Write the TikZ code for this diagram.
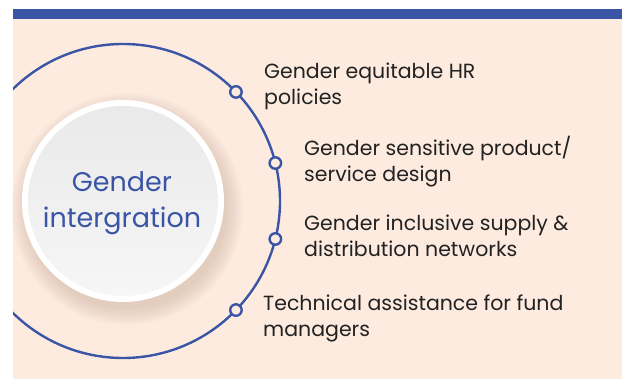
\documentclass[tikz,border=0pt]{standalone}
\usepackage{fontspec}
\setmainfont{Poppins}
\usetikzlibrary{positioning}
\definecolor{barblue}{HTML}{3B55A6}
\definecolor{peach}{HTML}{FDEBE0}
\definecolor{inktext}{HTML}{222222}
\definecolor{shadebrown}{HTML}{B89A84}

\begin{document}
\begin{tikzpicture}[
        x=1pt, y=-1pt,
        item/.style={anchor=base west, align=left, inner sep=0pt, text=inktext, font=\fontsize{20.5}{26}\selectfont},
        ring/.style={draw=barblue, line width=2.4pt},
        knob/.style={circle, draw=barblue, line width=2.4pt, fill=peach, minimum size=11.5pt, inner sep=0pt},
        hublabel/.style={align=center, text=barblue, font=\fontsize{27}{36}\selectfont}
    ]

    % Background
    \useasboundingbox (0,0) rectangle (622,379);
    \fill[white] (0,0) rectangle (622,379);
    \fill[peach] (13,19) rectangle (622,379);
    \fill[barblue] (13,9) rectangle (622,19);

    % Big ring
    \begin{scope}
      \clip (13,19) rectangle (622,379);
      \draw[ring] (123,201) circle (157);
    \end{scope}

    % Shadow and hub
    \foreach \i in {1,...,12}
      \fill[shadebrown, opacity=0.03] (127,209) circle (98+\i*1.5);
    \fill[white] (123,201) circle (101);
    \shade[top color=gray!17, bottom color=gray!7] (123,201) circle (95);
    \node[hublabel] (hub) at (122,203) {Gender\\intergration};

    % Knobs
    \path (123,201) ++(-44:157) node[knob] (d1) {};
    \path (123,201) ++(-14:157) node[knob] (d2) {};
    \path (123,201) ++(14:157) node[knob] (d3) {};
    \path (123,201) ++(44:157) node[knob] (d4) {};

    % Items (anchored at the last baseline)
    \node[item] (t1) at (264,105) {Gender equitable HR\\policies};
    \node[item] (t2) at (304,182) {Gender sensitive product/\\service design};
    \node[item] (t3) at (304,257) {Gender inclusive supply \&\\distribution networks};
    \node[item] (t4) at (263,337) {Technical assistance for fund\\managers};

\end{tikzpicture}
\end{document}
